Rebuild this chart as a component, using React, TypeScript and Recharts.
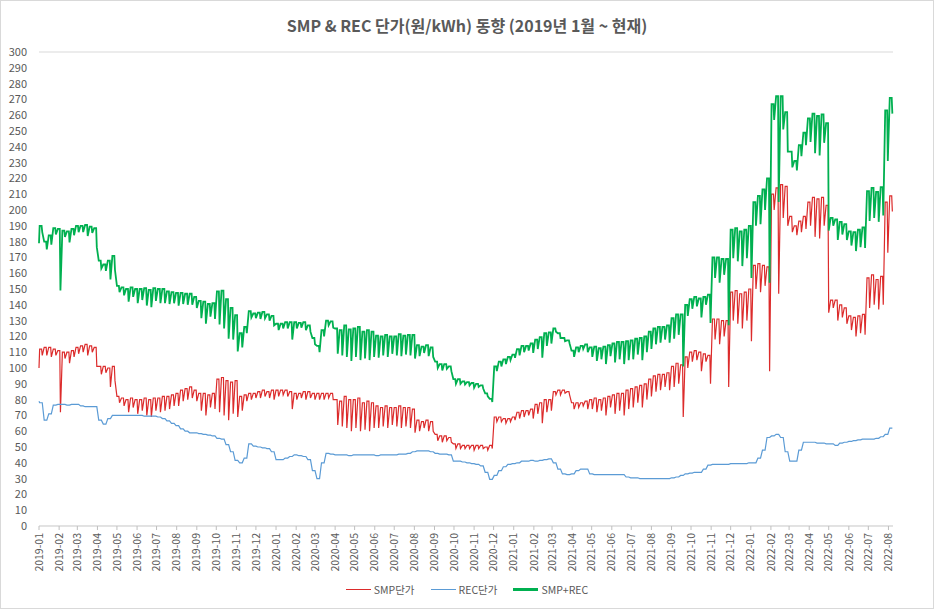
import React from 'react';
import { LineChart, Line, XAxis, YAxis, CartesianGrid, Legend } from 'recharts';

// month ticks on the date axis
const monthLabels = [
  '2019-01', '2019-02', '2019-03', '2019-04', '2019-05', '2019-06', '2019-07', '2019-08', '2019-09', '2019-10', '2019-11', '2019-12',
  '2020-01', '2020-02', '2020-03', '2020-04', '2020-05', '2020-06', '2020-07', '2020-08', '2020-09', '2020-10', '2020-11', '2020-12',
  '2021-01', '2021-02', '2021-03', '2021-04', '2021-05', '2021-06', '2021-07', '2021-08', '2021-09', '2021-10', '2021-11', '2021-12',
  '2022-01', '2022-02', '2022-03', '2022-04', '2022-05', '2022-06', '2022-07', '2022-08',
];

const yTicks = [0, 10, 20, 30, 40, 50, 60, 70, 80, 90, 100, 110, 120, 130, 140, 150, 160, 170, 180, 190, 200, 210, 220, 230, 240, 250, 260, 270, 280, 290, 300];

// first day (2019-01-01)
const firstSmp = 100;
const firstRec = 79;

// weekly readings, week 0 starts 2019-01-01
// SMP weekday level
const smpHigh = [
  112, 113, 113, 112, 111, 110, 110, 111, 113, 114, 115, 114, 113,
  101, 101, 100, 101,
  82, 81, 80, 81, 80, 80, 81, 80, 81,
  81, 82, 82, 83, 84, 86, 87, 88, 86,
  84, 84, 83, 84,
  93, 94, 92, 91, 92,
  82, 83, 84, 84, 85, 86, 85, 86,
  86, 86, 86, 85, 84, 84, 85, 85, 84, 84, 84, 84, 84,
  80, 79, 82, 80, 80, 81, 78, 79, 78, 76, 75, 76, 75, 75, 76, 75, 75,
  74, 67, 66, 67, 66,
  58, 57, 57, 56,
  52, 52, 51, 51, 51, 51, 51, 50, 51,
  69, 69, 68, 68, 69, 72, 73, 73, 74, 77, 78, 80, 80,
  85, 86, 86, 85,
  78, 78, 78, 79, 80, 81, 80, 81, 82, 83, 84, 84, 86, 87,
  88, 89, 90, 93, 95, 96, 96, 97, 101, 103, 102,
  107, 110, 111, 110, 109, 108,
  131, 131, 130, 130,
  148, 149, 147, 148, 150,
  165, 166, 165, 164,
  210, 214, 216, 215,
  196, 190, 193, 196, 205, 208, 207, 208, 203,
  143, 143, 140, 138, 133, 132, 133, 134, 157,
  159, 156, 158, 205, 209,
];

// SMP weekend / holiday dip
const smpLow = [
  108, 108, 107, 108, 72, 106, 103, 107, 109, 110, 108, 110, 101,
  96, 97, 88, 92,
  78, 76, 72, 75, 71, 73, 70, 69, 73,
  72, 73, 74, 76, 76, 79, 80, 81, 79,
  73, 70, 75, 74,
  72, 70, 67, 71, 69,
  73, 79, 80, 81, 81, 82, 81, 80,
  82, 83, 82, 74, 80, 81, 80, 81, 80, 80, 80, 81, 80,
  64, 63, 62, 60, 62, 60, 61, 60, 62, 62, 63, 62, 64, 63, 62, 63, 62,
  59, 60, 62, 60, 60,
  54, 53, 54, 53,
  49, 49, 49, 49, 48, 49, 49, 48, 49,
  66, 66, 65, 66, 67, 68, 69, 70, 68, 71, 65, 72, 73,
  83, 83, 84, 83,
  74, 75, 76, 74, 74, 72, 73, 70, 75, 71, 73, 70, 74, 75,
  78, 75, 80, 82, 85, 86, 88, 86, 88, 90, 69,
  100, 104, 105, 98, 104, 90,
  118, 115, 120, 88,
  130, 128, 125, 130, 117,
  150, 148, 152, 98,
  200, 147, 195, 190,
  186, 184, 186, 188, 190, 183, 182, 190, 135,
  138, 130, 132, 128, 124, 120, 122, 121, 138,
  140, 137, 140, 173, 199,
];

// REC price
const recWeekly = [
  78, 67, 71, 76.5, 77, 77, 76.5, 77, 77, 76, 75.5, 75.5, 75.5,
  67, 64.5, 68, 70,
  70, 70, 70, 70, 70, 70, 69.5, 69.5, 69.5,
  69, 68, 66.5, 65, 63.5, 61.5, 60, 59, 59,
  58.5, 58, 57.5, 57,
  55.5, 55, 51.5, 47, 41.5,
  40, 43, 52, 50.5, 50, 49.5, 49, 47,
  42, 42, 43, 44, 45, 44.5, 44, 42, 35, 30, 40, 46, 45.5,
  45, 45, 45, 44.5, 45, 45, 45, 45, 45, 44.5, 45, 45, 45, 45, 45.5, 45.5, 46,
  47, 47.5, 47.5, 47.5, 47,
  46, 45.5, 45.5, 45,
  41, 41, 40.5, 40, 39.5, 39, 38, 34, 29.5,
  32, 35, 37.5, 39, 39.5, 40, 41, 41, 41.5, 41, 41.5, 42, 42.5,
  40, 36, 33, 32.5,
  33, 35, 36, 36, 33, 32.5, 32.5, 32.5, 32.5, 32.5, 32.5, 32.5, 31, 30.5,
  30.5, 30, 30, 30, 30, 30, 30, 30, 30.5, 31, 32,
  33, 33.5, 34, 34, 36, 38.5,
  39, 39, 39, 39,
  39.5, 39.5, 39.5, 39.5, 40,
  40, 43, 48, 56,
  57, 58, 56, 47,
  41, 41, 48, 53, 53, 53, 52.5, 52.5, 52,
  52, 51, 52.5, 53, 53.5, 54, 54.5, 55, 55,
  55, 55.5, 56.5, 58, 62,
];

const DAY = 86400000;
const origin = Date.UTC(2019, 0, 1);
const monthDays = monthLabels.map((m) => {
  const [y, mo] = m.split('-').map(Number);
  return Math.round((Date.UTC(y, mo - 1, 1) - origin) / DAY);
});

const data = [
  { day: 0, smp: firstSmp, rec: firstRec },
  ...smpHigh.flatMap((hi, w) => [
    { day: w * 7 + 1, smp: hi, rec: recWeekly[w] },
    { day: w * 7 + 4, smp: hi, rec: recWeekly[w] },
    { day: w * 7 + 5, smp: smpLow[w], rec: recWeekly[w] },
  ]),
].map((r) => ({ ...r, total: r.smp + r.rec }));

const labelColor = '#595959';
const font = '"Noto Sans CJK KR", "Noto Sans", sans-serif';

const MonthTick = (props: any) => {
  const { x, y, payload } = props;
  const idx = monthDays.indexOf(payload.value);
  return (
    <text
      transform={`translate(${x},${y + 1}) rotate(-90)`}
      textAnchor="end"
      dy="0.35em"
      fontSize={10.5}
      fill={labelColor}
    >
      {monthLabels[idx]}
    </text>
  );
};

const legendItems = [
  { name: 'SMP단가', color: '#dc2b2b', width: 1.5 },
  { name: 'REC단가', color: '#5b9bd5', width: 1.5 },
  { name: 'SMP+REC', color: '#00b050', width: 3 },
];

const LegendContent = () => (
  <div style={{ display: 'flex', justifyContent: 'center', gap: 16, fontSize: 10.5, color: labelColor }}>
    {legendItems.map((it) => (
      <div key={it.name} style={{ display: 'flex', alignItems: 'center' }}>
        <span style={{ display: 'inline-block', width: 25, height: it.width, background: it.color, marginRight: 3 }} />
        <span>{it.name}</span>
      </div>
    ))}
  </div>
);

const App: React.FC = () => {
  return (
    <div style={{ position: 'relative', width: 934, height: 609, background: '#fff', fontFamily: font }}>
      <style>{'body{margin:0}'}</style>
      <div style={{ position: 'absolute', inset: 0, border: '1px solid #d9d9d9', pointerEvents: 'none' }} />
      <div
        style={{
          position: 'absolute', top: 13, left: 0, width: 934, textAlign: 'center',
          fontSize: 16, fontWeight: 700, color: labelColor, lineHeight: '24px',
        }}
      >
        SMP &amp; REC 단가(원/kWh) 동향 (2019년 1월 ~ 현재)
      </div>
      <LineChart width={934} height={609} data={data} margin={{ top: 52, right: 0, bottom: 0, left: 0 }}>
        <CartesianGrid vertical={false} stroke="#d9d9d9" />
        <XAxis
          type="number"
          dataKey="day"
          domain={[0, 1315]}
          ticks={monthDays}
          interval={0}
          height={83}
          tick={<MonthTick />}
          tickSize={4}
          tickMargin={2}
          stroke="#d9d9d9"
          tickLine={{ stroke: '#bfbfbf' }}
        />
        <YAxis
          yAxisId="left"
          domain={[0, 300]}
          ticks={yTicks}
          interval={0}
          width={39}
          axisLine={false}
          tickLine={false}
          tickSize={0}
          tickMargin={12}
          tick={{ fill: labelColor, fontSize: 11 }}
        />
        <YAxis
          yAxisId="right"
          orientation="right"
          domain={[0, 300]}
          ticks={yTicks}
          interval={0}
          width={41}
          axisLine={false}
          tickLine={false}
          tickSize={0}
          tickMargin={12}
          tick={{ fill: labelColor, fontSize: 11, textAnchor: 'start' }}
        />
        <Legend
          layout="horizontal"
          verticalAlign="middle"
          align="center"
          content={<LegendContent />}
          wrapperStyle={{ top: 582, left: 0, width: 934 }}
        />
        <Line yAxisId="left" type="linear" dataKey="smp" name="SMP단가" stroke="#dc2b2b" strokeWidth={1.2} dot={false} isAnimationActive={false} />
        <Line yAxisId="left" type="linear" dataKey="rec" name="REC단가" stroke="#5b9bd5" strokeWidth={1.2} dot={false} isAnimationActive={false} />
        <Line yAxisId="left" type="linear" dataKey="total" name="SMP+REC" stroke="#00b050" strokeWidth={1.8} dot={false} isAnimationActive={false} />
      </LineChart>
    </div>
  );
};

export default App;
